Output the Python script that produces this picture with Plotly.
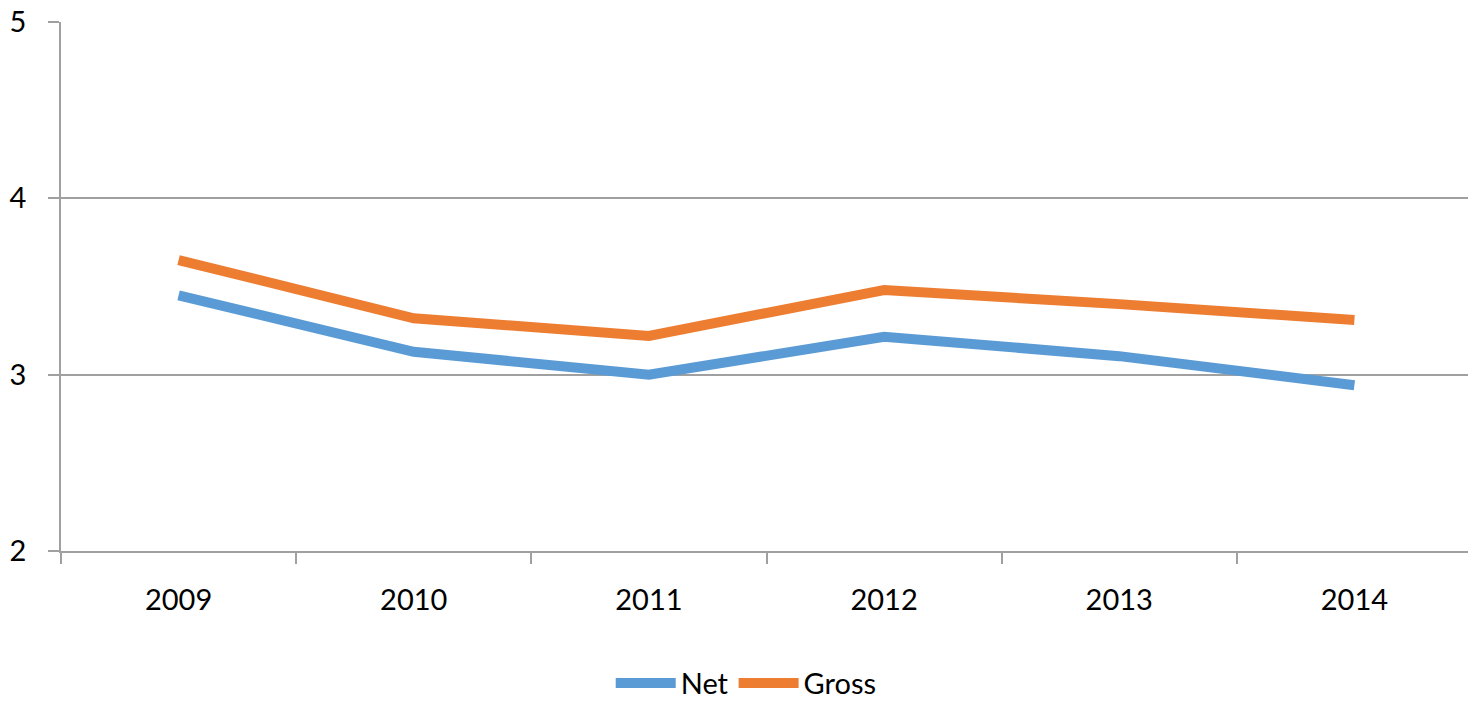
import plotly.graph_objects as go

years = ["2009", "2010", "2011", "2012", "2013", "2014"]
net = [3.45, 3.13, 3.0, 3.215, 3.105, 2.94]
gross = [3.65, 3.32, 3.22, 3.48, 3.40, 3.31]

BLUE = "#5B9BD5"
ORANGE = "#ED7D31"
GRID = "#A0A0A0"
FONT = "Lato"

fig = go.Figure()
fig.add_trace(go.Scatter(x=years, y=net, name="Net", mode="lines",
                         line=dict(color=BLUE, width=10)))
fig.add_trace(go.Scatter(x=years, y=gross, name="Gross", mode="lines",
                         line=dict(color=ORANGE, width=10)))

fig.update_layout(
    width=1468, height=703,
    margin=dict(l=61, r=0, t=22, b=152, autoexpand=False),
    paper_bgcolor="white", plot_bgcolor="white",
    font=dict(family=FONT, size=29, color="black"),
    showlegend=True,
    legend=dict(orientation="h", x=0.487, xanchor="center", y=-0.25, yanchor="middle",
                font=dict(family=FONT, size=29), itemwidth=60, tracegroupgap=0,
                borderwidth=0),
)
fig.update_xaxes(
    type="category", range=[-0.5, 5.483],
    showgrid=False, showline=True, linecolor=GRID, linewidth=1.5,
    ticks="outside", tickson="boundaries", ticklen=11, tickcolor=GRID, tickwidth=1.5,
    ticklabelstandoff=22, zeroline=False,
)
fig.update_yaxes(
    range=[2, 5], tickvals=[2, 3, 4, 5],
    showgrid=True, gridcolor=GRID, gridwidth=1.5,
    showline=True, linecolor=GRID, linewidth=1.5,
    ticks="outside", ticklen=11, tickcolor=GRID, tickwidth=1.5,
    ticklabelstandoff=16, zeroline=False,
)

fig.write_html("out.html")
